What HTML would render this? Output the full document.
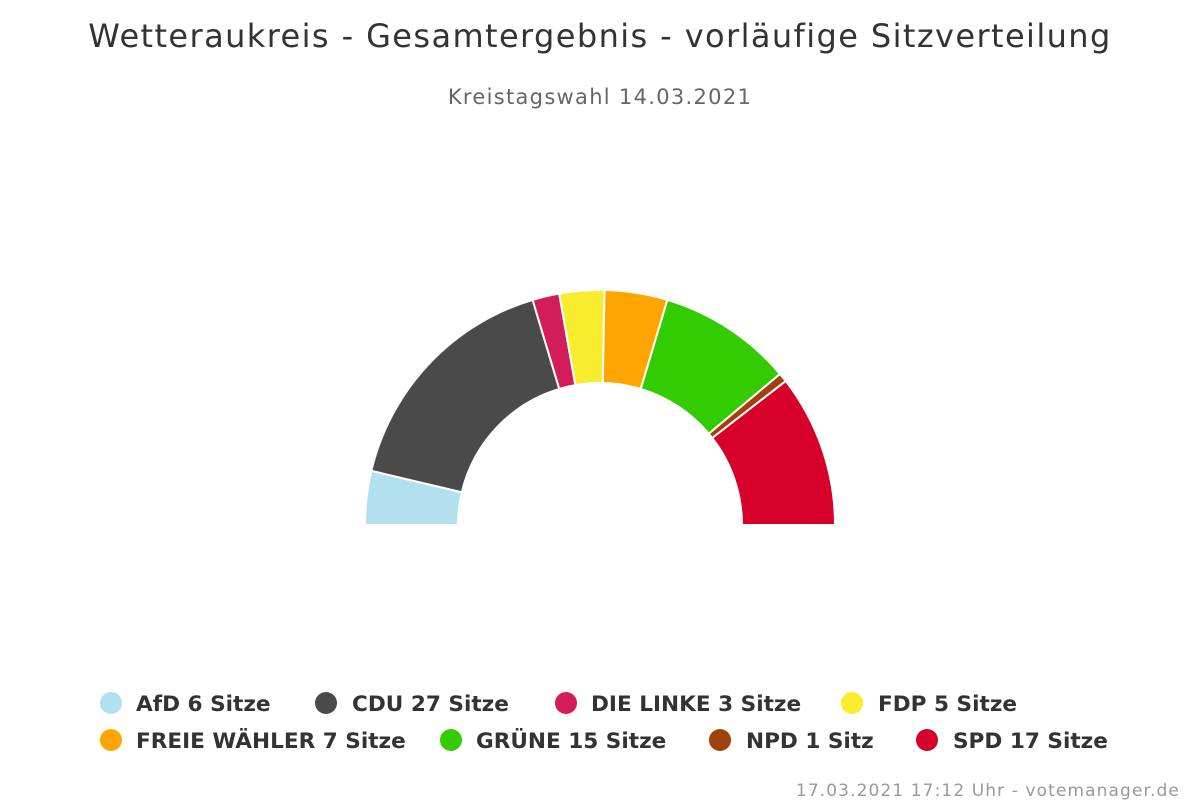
<!DOCTYPE html>
<html><head><meta charset="utf-8">
<style>
body{margin:0;width:1200px;height:800px;background:#fff;overflow:hidden;font-family:"DejaVu Sans","Liberation Sans",sans-serif;}
</style></head><body>
<svg id="s" width="1200" height="800" xmlns="http://www.w3.org/2000/svg">
<text x="600" y="47" text-anchor="middle" font-size="32" letter-spacing="1.4" fill="#333">Wetteraukreis - Gesamtergebnis - vorläufige Sitzverteilung</text>
<text x="600" y="104" text-anchor="middle" font-size="21" letter-spacing="1.3" fill="#666">Kreistagswahl 14.03.2021</text>
<g id="arcs"></g>
<g font-size="21.6" font-weight="bold" fill="#333">
<circle cx="111" cy="703" r="11" fill="#b3e0ef"/><text x="136" y="711">AfD 6 Sitze</text>
<circle cx="326" cy="703" r="11" fill="#4a4a4a"/><text x="352" y="711">CDU 27 Sitze</text>
<circle cx="566" cy="703" r="11" fill="#d31d5b"/><text x="591" y="711">DIE LINKE 3 Sitze</text>
<circle cx="852" cy="703" r="11" fill="#f7ec2e"/><text x="878" y="711">FDP 5 Sitze</text>
<circle cx="111" cy="740" r="11" fill="#ffa500"/><text x="136" y="748">FREIE WÄHLER 7 Sitze</text>
<circle cx="451" cy="740" r="11" fill="#33cc00"/><text x="476" y="748">GRÜNE 15 Sitze</text>
<circle cx="720" cy="740" r="11" fill="#a0400d"/><text x="746" y="748">NPD 1 Sitz</text>
<circle cx="927" cy="740" r="11" fill="#d6002b"/><text x="953" y="748">SPD 17 Sitze</text>
</g>
<text x="1180" y="796" text-anchor="end" font-size="17" letter-spacing="1.1" fill="#999">17.03.2021 17:12 Uhr - votemanager.de</text>
</svg>
<script>
var d=[[6,"#b3e0ef"],[27,"#4a4a4a"],[3,"#d31d5b"],[5,"#f7ec2e"],[7,"#ffa500"],[15,"#33cc00"],[1,"#a0400d"],[17,"#d6002b"]];
var cx=600,cy=525,R=235,r=142,tot=81,acc=0,g=document.getElementById("arcs"),h="";
function p(rad,a){return [cx-rad*Math.cos(a),cy-rad*Math.sin(a)];}
d.forEach(function(e){var a0=acc/tot*Math.PI,a1=(acc+e[0])/tot*Math.PI;acc+=e[0];
var A=p(R,a0),B=p(R,a1),C=p(r,a1),D=p(r,a0);
h+='<path d="M'+A+' A'+R+','+R+' 0 0 1 '+B+' L'+C+' A'+r+','+r+' 0 0 0 '+D+' Z" fill="'+e[1]+'" stroke="#fff" stroke-width="2" stroke-linejoin="round"/>';});
g.innerHTML=h;
</script>
</body></html>
